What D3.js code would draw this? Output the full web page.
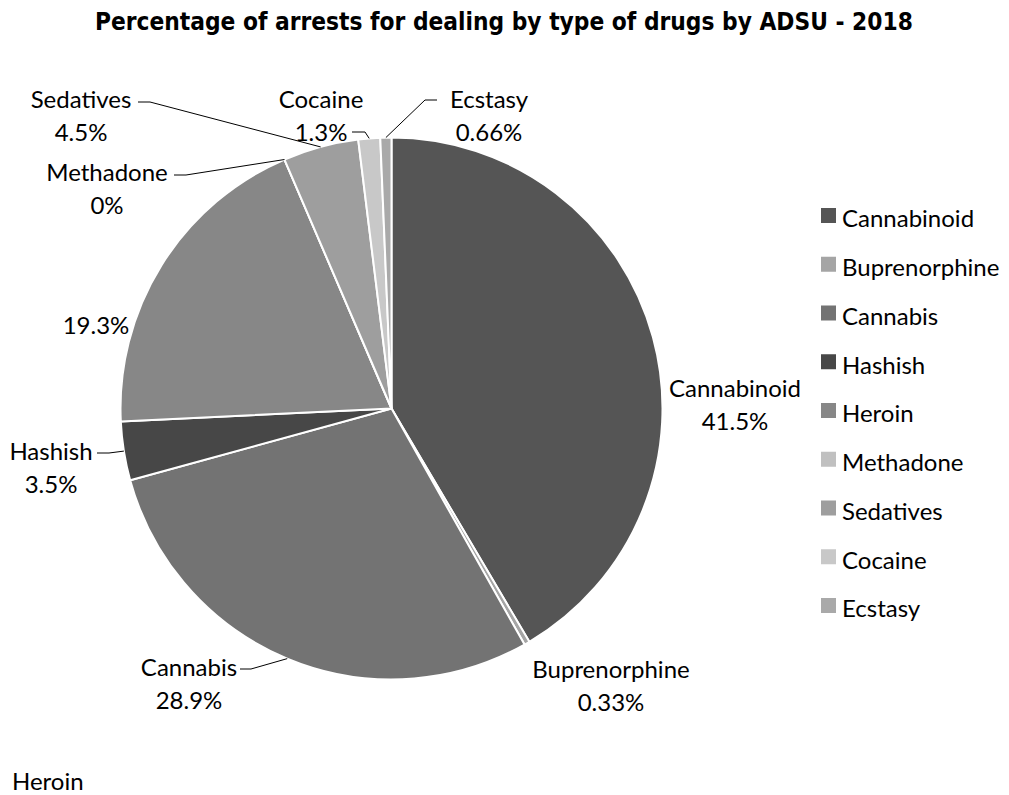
<!DOCTYPE html>
<html>
<head>
<meta charset="utf-8">
<script src="https://cdn.jsdelivr.net/npm/d3@7"></script>
<style>
  html, body { margin: 0; padding: 0; background: #fff; }
  svg { display: block; }
</style>
</head>
<body>
<svg id="chart" width="1009" height="795"></svg>
<script>
// Arrests for dealing, share by type of drug (ADSU, 2018)
const categories = ["Cannabinoid", "Buprenorphine", "Cannabis", "Hashish", "Heroin",
                    "Methadone", "Sedatives", "Cocaine", "Ecstasy"];
const values = [41.5, 0.33, 28.9, 3.5, 19.3, 0, 4.5, 1.3, 0.66];
const sliceColors = ["#555555", "#a5a5a5", "#737373", "#474747", "#878787",
                     "#c0c0c0", "#9e9e9e", "#c8c8c8", "#a9a9a9"];
const titleText = "Percentage of arrests for dealing by type of drugs by ADSU - 2018";

// Layout of the data labels: centre of the two-line label, plus optional leader knee
const labelLayout = {
  Cannabinoid:   { x: 735, y: 389 },
  Buprenorphine: { x: 611, y: 670 },
  Cannabis:      { x: 189, y: 668, lead: [[240, 669], [251, 669]] },
  Hashish:       { x: 51,  y: 452, lead: [[97, 453], [109, 453]] },
  Heroin:        { x: 96,  y: 326, nameApart: { x: 12, y: 782 } },
  Methadone:     { x: 107, y: 173, lead: [[174, 175], [186, 175]] },
  Sedatives:     { x: 81,  y: 100, lead: [[138, 102], [150, 102]] },
  Cocaine:       { x: 321, y: 100, lead: [[352, 132], [365, 132]] },
  Ecstasy:       { x: 489, y: 100, lead: [[437, 100], [425, 100]] }
};

const svg = d3.select("#chart");
const cx = 391.5, cy = 408.5, R = 271;
const labelFont = "Lato, 'Open Sans', sans-serif";

// Title, sized to span its band
const title = svg.append("text")
  .attr("x", 95).attr("y", 30)
  .attr("text-anchor", "start")
  .attr("font-family", "'DejaVu Sans Condensed', 'DejaVu Sans', sans-serif")
  .attr("font-stretch", "condensed")
  .attr("font-weight", "bold")
  .attr("font-size", 22)
  .attr("fill", "#000")
  .text(titleText);
const titleW = title.node().getComputedTextLength();
title.attr("font-size", 22 * 818 / titleW);

const data = categories.map((c, i) => ({ name: c, value: values[i], color: sliceColors[i] }));

const pie = d3.pie().sort(null).value(d => d.value);
const arcs = pie(data);
const arc = d3.arc().innerRadius(0).outerRadius(R);

const g = svg.append("g").attr("transform", `translate(${cx},${cy})`);

g.selectAll("path.slice")
  .data(arcs)
  .join("path")
  .attr("class", "slice")
  .attr("d", arc)
  .attr("fill", d => d.data.color)
  .attr("stroke", "#fff")
  .attr("stroke-width", 2)
  .attr("stroke-linejoin", "round");

// Leader lines: from the label knee to the slice rim at its mid-angle
const rimPoint = a => {
  const m = (a.startAngle + a.endAngle) / 2;
  return [cx + R * Math.sin(m), cy - R * Math.cos(m)];
};

const lineGen = d3.line();
arcs.forEach(a => {
  const L = labelLayout[a.data.name];
  if (!L.lead) return;
  const pts = L.lead.concat([rimPoint(a)]);
  svg.append("path")
    .attr("d", lineGen(pts))
    .attr("fill", "none")
    .attr("stroke", "#000")
    .attr("stroke-width", 1);
});

// Data labels: name on the first line, value on the second
const addText = (x, y, anchor, txt) =>
  svg.append("text")
    .attr("x", x).attr("y", y)
    .attr("dy", "0.35em")
    .attr("text-anchor", anchor)
    .attr("font-family", labelFont).attr("font-size", 24).attr("fill", "#000")
    .text(txt);

arcs.forEach(a => {
  const L = labelLayout[a.data.name];
  const valueText = `${a.data.value}%`;
  if (L.nameApart) {
    addText(L.x, L.y, "middle", valueText);
    addText(L.nameApart.x, L.nameApart.y, "start", a.data.name);
    return;
  }
  addText(L.x, L.y, "middle", a.data.name);
  addText(L.x, L.y + 33, "middle", valueText);
});

// Legend
const legendY = d3.scalePoint().domain(categories).range([216, 606]);
const legend = svg.append("g");
const rows = legend.selectAll("g.row")
  .data(data)
  .join("g")
  .attr("class", "row")
  .attr("transform", d => `translate(821,${legendY(d.name)})`);
rows.append("rect")
  .attr("x", 0).attr("y", -8)
  .attr("width", 15).attr("height", 15)
  .attr("fill", d => d.color);
rows.append("text")
  .attr("x", 21).attr("y", 3)
  .attr("dy", "0.35em")
  .attr("font-family", labelFont).attr("font-size", 24).attr("fill", "#000")
  .text(d => d.name);
</script>
</body>
</html>
